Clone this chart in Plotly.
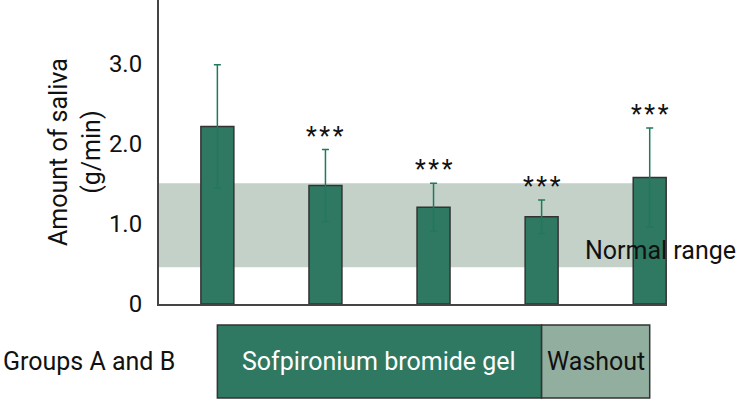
import plotly.graph_objects as go

# Data
positions = [0, 1, 2, 3, 4]
values = [2.22, 1.48, 1.21, 1.09, 1.58]
errors = [0.77, 0.45, 0.30, 0.21, 0.62]
sig_labels = ["", "*\u200a*\u200a*", "*\u200a*\u200a*", "*\u200a*\u200a*", "*\u200a*\u200a*"]
normal_low, normal_high = 0.46, 1.51
y_ticks = [0, 1, 2, 3]
y_tick_labels = ["0", "1.0", "2.0", "3.0"]
phase_labels = ["Sofpironium bromide gel", "Washout"]
phase_bounds = [0, 3, 4]

DARK = "#2f7862"
ERR = "#1f7a5a"
BAND = "#c3d1c9"
WASH = "#91ae9f"
FONT = "Roboto"
TXT = "#111111"

fig = go.Figure()

fig.add_trace(go.Bar(
    x=positions, y=values, width=0.305,
    marker=dict(color=DARK, line=dict(color="#333333", width=1.5)),
    error_y=dict(type="data", array=errors, color=ERR, thickness=1.5, width=3.5),
    hoverinfo="skip",
))

shapes = [
    dict(type="rect", xref="x", yref="y", x0=-0.54, x1=4, y0=normal_low, y1=normal_high,
         fillcolor=BAND, line=dict(width=0), layer="below"),
    dict(type="rect", xref="x", yref="paper", x0=phase_bounds[0], x1=phase_bounds[1],
         y0=-0.069, y1=-0.309, fillcolor=DARK, line=dict(color="#333333", width=1.5)),
    dict(type="rect", xref="x", yref="paper", x0=phase_bounds[1], x1=phase_bounds[2],
         y0=-0.069, y1=-0.309, fillcolor=WASH, line=dict(color="#333333", width=1.5)),
]

annotations = []
for xi, v, e, s in zip(positions, values, errors, sig_labels):
    if s:
        annotations.append(dict(x=xi, y=v + e, xref="x", yref="y", text=s, showarrow=False,
                                yanchor="bottom", yshift=-3,
                                font=dict(family=FONT, size=25, color=TXT)))
annotations += [
    dict(x=3.38, y=0.675, xref="x", yref="y", text="Normal range", showarrow=False,
         xanchor="left", yanchor="middle", font=dict(family=FONT, size=25, color=TXT)),
    dict(x=(phase_bounds[0] + phase_bounds[1]) / 2, y=-0.188, xref="x", yref="paper",
         text=phase_labels[0], showarrow=False, yanchor="middle",
         font=dict(family=FONT, size=25, color="white")),
    dict(x=(phase_bounds[1] + phase_bounds[2]) / 2, y=-0.188, xref="x", yref="paper",
         text=phase_labels[1], showarrow=False, yanchor="middle",
         font=dict(family=FONT, size=25, color=TXT)),
    dict(x=0, y=-0.188, xref="paper", yref="paper", text="Groups A and B", showarrow=False,
         xanchor="left", yanchor="middle", xshift=-158,
         font=dict(family=FONT, size=25, color=TXT)),
    dict(x=0, y=0.5, xref="paper", yref="paper", text="Amount of saliva<br>(g/min)",
         showarrow=False, textangle=-90, xanchor="center", yanchor="middle", xshift=-84,
         font=dict(family=FONT, size=25, color=TXT)),
]

fig.update_layout(
    width=736, height=400,
    margin=dict(l=159, r=69, t=0, b=96),
    paper_bgcolor="white", plot_bgcolor="white",
    showlegend=False,
    shapes=shapes, annotations=annotations,
    xaxis=dict(range=[-0.54, 4.16], showticklabels=False, ticks="", showgrid=False,
               zeroline=False, showline=True, linecolor="#444444", linewidth=2),
    yaxis=dict(range=[0, 3.8], tickvals=y_ticks, ticktext=y_tick_labels, ticks="",
               showgrid=False, zeroline=False, showline=True, linecolor="#444444",
               linewidth=2, ticklabelstandoff=10,
               tickfont=dict(family=FONT, size=24, color=TXT)),
)

fig.write_html("out.html", config={"displayModeBar": False},
               post_script="document.body.style.margin='0';")
